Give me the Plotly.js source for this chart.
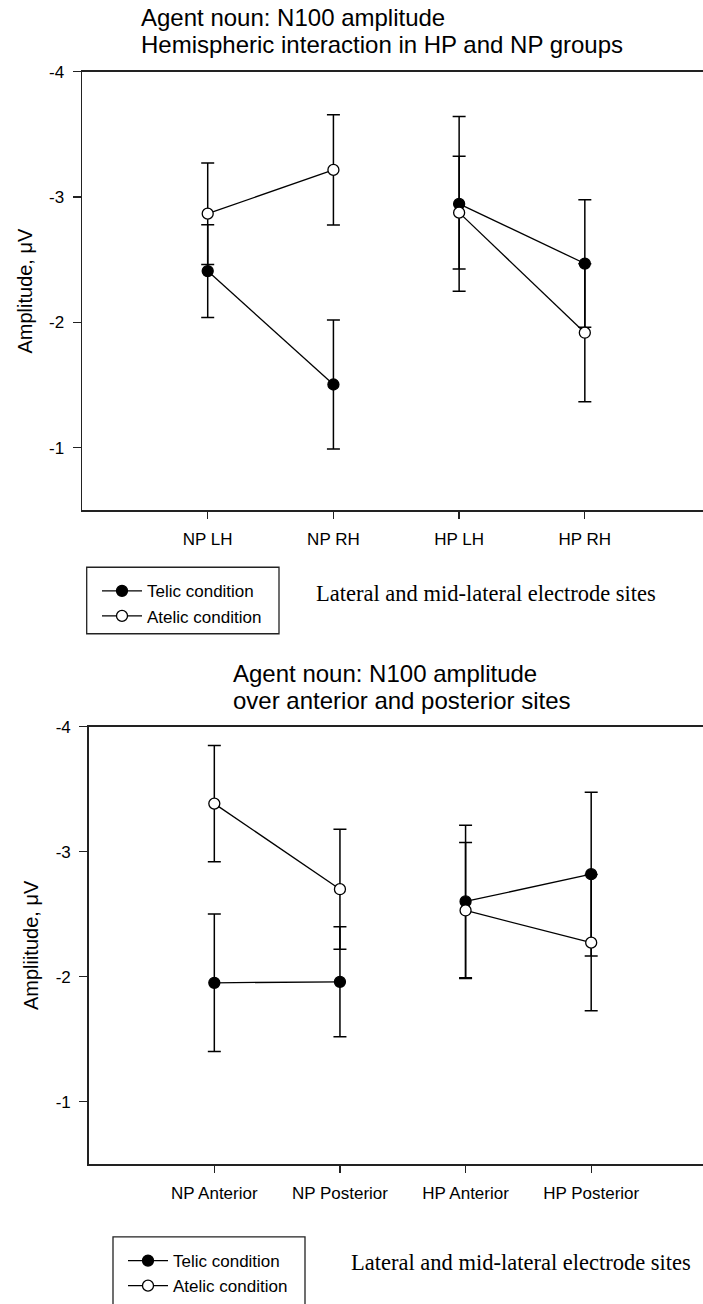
<!DOCTYPE html>
<html>
<head>
<meta charset="utf-8">
<script src="https://cdn.plot.ly/plotly-3.0.1.min.js"></script>
<style>
  html, body { margin: 0; padding: 0; background: #fff; }
  #chart { width: 703px; height: 1304px; }
</style>
</head>
<body>
<div id="chart"></div>
<script>
// ---- Data ----
const categoriesTop = ['NP LH', 'NP RH', 'HP LH', 'HP RH'];
const telicTop = [-2.41, -1.505, -2.946, -2.47];
const telicTopErr = [0.37, 0.515, 0.697, 0.508];
const atelicTop = [-2.868, -3.217, -2.876, -1.918];
const atelicTopErr = [0.405, 0.44, 0.45, 0.55];

const categoriesBottom = ['NP Anterior', 'NP Posterior', 'HP Anterior', 'HP Posterior'];
const telicBottom = [-1.951, -1.959, -2.602, -2.82];
const telicBottomErr = [0.55, 0.44, 0.61, 0.655];
const atelicBottom = [-3.385, -2.70, -2.53, -2.272];
const atelicBottomErr = [0.465, 0.48, 0.544, 0.545];

const yTickVals = [-4, -3, -2, -1];
const yTickText = ['-4', '-3', '-2', '-1'];

const seriesNames = ['Telic condition', 'Atelic condition'];
const titleTop = ['Agent noun: N100 amplitude', 'Hemispheric interaction in HP and NP groups'];
const titleBottom = ['Agent noun: N100 amplitude', 'over anterior and posterior sites'];
const yTitleTop = 'Amplitude, \u03bcV';
const yTitleBottom = 'Ampliitude, \u03bcV';
const noteText = 'Lateral and mid-lateral electrode sites';

// ---- Layout helpers ----
const W = 703, H = 1304;
const px = v => v / W;
const py = v => 1 - v / H;
const FONT = 'Arial, "Liberation Sans", sans-serif';
const SERIF = '"Times New Roman", "Liberation Serif", serif';
const INK = '#000';

// Each group (NP pair, HP pair) is connected separately.
function makeTraces(cats, vals, errs, idx, xa, ya, legend) {
  const filled = idx === 0;
  const out = [];
  for (let g = 0; g < 2; g++) {
    out.push({
      type: 'scatter', mode: 'lines+markers',
      x: cats.slice(g * 2, g * 2 + 2), y: vals.slice(g * 2, g * 2 + 2),
      xaxis: xa, yaxis: ya, legend: legend,
      name: seriesNames[idx], legendgroup: legend + idx, showlegend: g === 0,
      line: { color: INK, width: 1.3 },
      marker: { symbol: 'circle', size: 11, color: filled ? INK : '#fff', line: { color: INK, width: 1.3 } },
      error_y: { type: 'data', array: errs.slice(g * 2, g * 2 + 2), visible: true, color: INK, thickness: 1.5, width: 6.5 },
      cliponaxis: false
    });
  }
  return out;
}

const data = [].concat(
  makeTraces(categoriesTop, telicTop, telicTopErr, 0, 'x', 'y', 'legend'),
  makeTraces(categoriesTop, atelicTop, atelicTopErr, 1, 'x', 'y', 'legend'),
  makeTraces(categoriesBottom, telicBottom, telicBottomErr, 0, 'x2', 'y2', 'legend2'),
  makeTraces(categoriesBottom, atelicBottom, atelicBottomErr, 1, 'x2', 'y2', 'legend2')
);

function xAxis(domainLeft, rangeRight, anchor, cats) {
  return {
    type: 'category', categoryorder: 'array', categoryarray: cats,
    domain: [domainLeft, 1], range: [-1, rangeRight], anchor: anchor,
    showline: true, linecolor: '#222', linewidth: 1.5, mirror: true,
    ticks: 'outside', ticklen: 7, tickwidth: 1.3, tickcolor: '#222',
    showgrid: false, zeroline: false, ticklabelstandoff: 6,
    tickfont: { family: FONT, size: 17, color: INK }
  };
}
function yAxis(domain, title, anchor) {
  return {
    domain: domain, range: [-0.5, -4], anchor: anchor,
    tickvals: yTickVals, ticktext: yTickText,
    showline: true, linecolor: '#222', linewidth: 1.5, mirror: false,
    ticks: 'outside', ticklen: 8, tickwidth: 1.3, tickcolor: '#222',
    showgrid: false, zeroline: false, ticklabelstandoff: 5,
    tickfont: { family: FONT, size: 17, color: INK },
    title: { text: title, font: { family: FONT, size: 20, color: INK }, standoff: 11 }
  };
}

function ann(text, xPx, yPx, size, family) {
  return { text: text, x: px(xPx), y: py(yPx), xref: 'paper', yref: 'paper',
    xanchor: 'left', yanchor: 'middle', showarrow: false,
    font: { family: family, size: size, color: INK } };
}

const layout = {
  width: W, height: H,
  margin: { l: 0, r: 0, t: 0, b: 0 },
  paper_bgcolor: '#fff', plot_bgcolor: '#fff',
  font: { family: FONT, color: INK },
  xaxis: xAxis(px(82), 3.94, 'y', categoriesTop),
  yaxis: yAxis([py(512), py(72)], yTitleTop, 'x'),
  xaxis2: xAxis(px(88.7), 3.89, 'y2', categoriesBottom),
  yaxis2: yAxis([py(1167.7), py(729)], yTitleBottom, 'x2'),
  showlegend: true,
  legend: {
    x: px(97), y: py(575), xanchor: 'left', yanchor: 'top',
    bgcolor: 'rgba(0,0,0,0)', borderwidth: 0, itemwidth: 40,
    font: { family: FONT, size: 17, color: INK }, tracegroupgap: 0
  },
  legend2: {
    x: px(123), y: py(1247), xanchor: 'left', yanchor: 'top',
    bgcolor: 'rgba(0,0,0,0)', borderwidth: 0, itemwidth: 40,
    font: { family: FONT, size: 17, color: INK }, tracegroupgap: 0
  },
  shapes: [
    { type: 'rect', xref: 'paper', yref: 'paper', x0: px(86.7), x1: px(279), y0: py(635.7), y1: py(569),
      line: { color: '#222', width: 1.3 }, fillcolor: 'rgba(0,0,0,0)' },
    { type: 'rect', xref: 'paper', yref: 'paper', x0: px(113), x1: px(305), y0: py(1310), y1: py(1240.7),
      line: { color: '#222', width: 1.3 }, fillcolor: 'rgba(0,0,0,0)' }
  ],
  annotations: [
    ann(titleTop[0], 139, 18, 24, FONT),
    ann(titleTop[1], 139, 44.5, 24, FONT),
    ann(titleBottom[0], 231, 675.7, 24, FONT),
    ann(titleBottom[1], 231, 702.4, 24, FONT),
    ann(noteText, 314, 595, 22.5, SERIF),
    ann(noteText, 349, 1266.7, 22.5, SERIF)
  ]
};

Plotly.newPlot('chart', data, layout, { displayModeBar: false, staticPlot: true });
</script>
</body>
</html>
